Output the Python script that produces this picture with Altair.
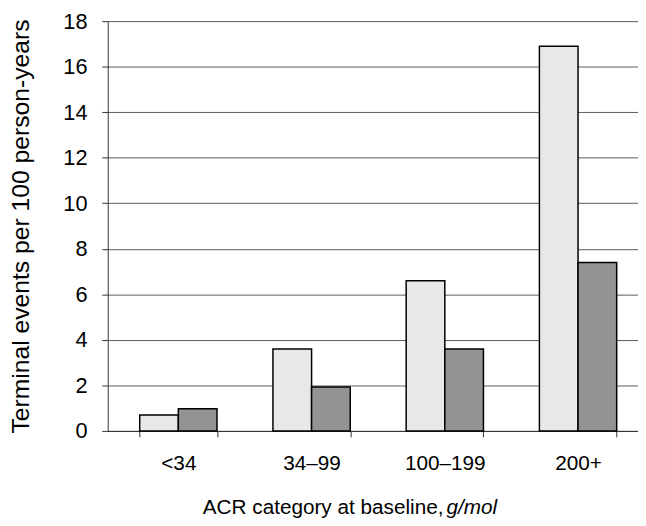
import altair as alt
import pandas as pd

categories = ["<34", "34\u201399", "100\u2013199", "200+"]
series_names = ["A", "B"]
light_values = [0.7, 3.6, 6.6, 16.9]
dark_values = [0.97, 1.93, 3.6, 7.4]
y_ticks = [0, 2, 4, 6, 8, 10, 12, 14, 16, 18]

rows = []
for c, a, b in zip(categories, light_values, dark_values):
    rows.append({"cat": c, "series": series_names[0], "value": a})
    rows.append({"cat": c, "series": series_names[1], "value": b})
df = pd.DataFrame(rows)

W, H = 537, 415
FONT = "Liberation Sans"

bars = alt.Chart(df).mark_bar(stroke="black", strokeWidth=1.5).encode(
    x=alt.X("cat:N", sort=categories,
            scale=alt.Scale(paddingInner=0.42, paddingOuter=0.2, align=0.6),
            axis=alt.Axis(title=None, labelAngle=0, labelFontSize=21, labelFont=FONT,
                          labelColor="black", tickBand="extent", tickSize=6,
                          tickColor="#333", domainColor="#333", labelPadding=16,
                          grid=False)),
    xOffset=alt.XOffset("series:N", sort=series_names, scale=alt.Scale(paddingInner=0, paddingOuter=0)),
    y=alt.Y("value:Q", scale=alt.Scale(domain=[0, 18], nice=False),
            axis=alt.Axis(title="Terminal events per 100 person-years", values=y_ticks,
                          labelFontSize=22, labelFont=FONT, labelColor="black",
                          titleFontSize=25, titleFont=FONT, titleFontWeight="normal",
                          titleColor="black", titlePadding=30, tickSize=6, labelPadding=15,
                          tickColor="#333", domainColor="#333",
                          grid=True, gridColor="#5a5a5a", gridWidth=1)),
    fill=alt.Fill("series:N", sort=series_names,
                  scale=alt.Scale(domain=series_names, range=["#e8e8e8", "#939393"]),
                  legend=None),
)

title_df = pd.DataFrame({"t": ["ACR category at baseline, "], "i": ["g/mol"]})
title1 = alt.Chart(title_df).mark_text(align="right", baseline="alphabetic", fontSize=21,
                                        font=FONT, color="black").encode(
    x=alt.value(340), y=alt.value(499), text="t:N")
title2 = alt.Chart(title_df).mark_text(align="left", baseline="alphabetic", fontSize=21,
                                        font=FONT, fontStyle="italic", color="black").encode(
    x=alt.value(343), y=alt.value(499), text="i:N")

chart = alt.layer(bars, title1, title2).properties(
    width=W, height=H,
    autosize=alt.AutoSizeParams(type="none"),
    padding={"left": 101, "top": 10, "right": 0, "bottom": 92},
).configure_view(stroke=None).configure_axis(domainWidth=1)

chart.save("out.html", embed_options={"renderer": "svg", "actions": False})
